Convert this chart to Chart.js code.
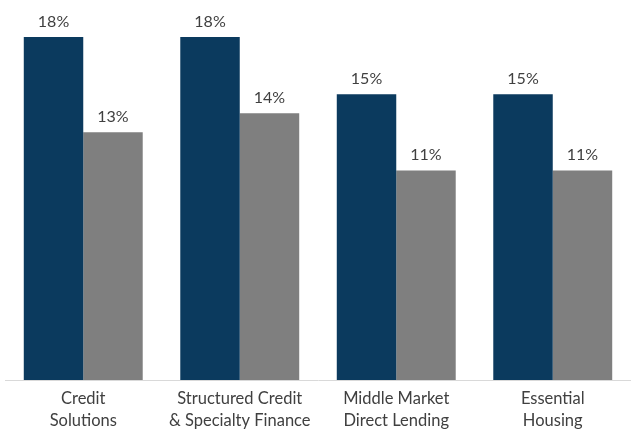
<!DOCTYPE html>
<html>
<head>
<meta charset="utf-8">
<script src="https://cdn.jsdelivr.net/npm/chart.js@4/dist/chart.umd.min.js"></script>
<style>
  html, body { margin: 0; padding: 0; background: #ffffff; }
  #wrap { width: 631px; height: 429px; position: relative; }
</style>
</head>
<body>
<div id="wrap"><canvas id="c"></canvas></div>
<script>
// Strategy categories and the two return figures per strategy (percent)
const categories = [
  ["Credit", "Solutions"],
  ["Structured Credit", "& Specialty Finance"],
  ["Middle Market", "Direct Lending"],
  ["Essential", "Housing"]
];
const seriesA = [18, 18, 15, 15];
const seriesB = [13, 14, 11, 11];

const TEXT = "#404040";
const FONT = "Lato, 'Open Sans', sans-serif";

// Writes each bar's value above it
const valueLabels = {
  id: "valueLabels",
  afterDatasetsDraw(chart) {
    const ctx = chart.ctx;
    ctx.save();
    ctx.font = "16px " + FONT;
    ctx.fillStyle = TEXT;
    ctx.textAlign = "center";
    ctx.textBaseline = "alphabetic";
    chart.data.datasets.forEach((ds, i) => {
      chart.getDatasetMeta(i).data.forEach((bar, j) => {
        ctx.fillText(ds.data[j] + "%", bar.x, bar.y - 10);
      });
    });
    ctx.restore();
  }
};

new Chart(document.getElementById("c"), {
  type: "bar",
  data: {
    labels: categories,
    datasets: [
      { data: seriesA, backgroundColor: "#0b3a5e", categoryPercentage: 0.76, barPercentage: 1.0 },
      { data: seriesB, backgroundColor: "#7f7f7f", categoryPercentage: 0.76, barPercentage: 1.0 }
    ]
  },
  options: {
    responsive: true,
    maintainAspectRatio: false,
    animation: false,
    events: [],
    layout: { padding: { top: 18, left: 5, right: 0, bottom: 0 } },
    plugins: { legend: { display: false }, tooltip: { enabled: false } },
    scales: {
      y: { display: false, min: 0, max: 19 },
      x: {
        grid: { display: false, drawTicks: false },
        border: { display: true, color: "#d9d9d9", width: 1 },
        ticks: {
          color: TEXT,
          padding: 8,
          font: { family: FONT, size: 16.5, lineHeight: 1.33 },
          maxRotation: 0,
          autoSkip: false
        },
        afterFit(scale) { scale.height = 49; }
      }
    }
  },
  plugins: [valueLabels]
});
</script>
</body>
</html>
